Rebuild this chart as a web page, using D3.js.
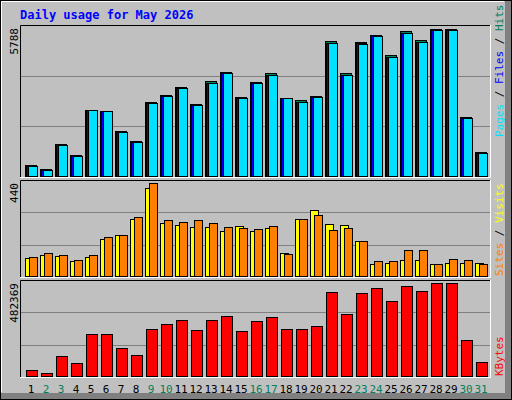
<!DOCTYPE html>
<html><head><meta charset="utf-8">
<script src="https://cdn.jsdelivr.net/npm/d3@7"></script>
<style>body{margin:0;background:#fff}svg{display:block}</style>
</head><body>
<script>
// daily values
const days = d3.range(1, 32);
const weekend = [2, 3, 9, 10, 16, 17, 23, 24, 30, 31];
const hits = [460, 303, 1289, 855, 2631, 2605, 1802, 1408, 2960, 3223, 3539, 2868, 3775, 4131, 3144, 3710,
  4065, 3105, 3026, 3184, 5315, 4065, 5288, 5565, 4775, 5722, 5354, 5788, 5788, 2368, 973];
const files = [420, 265, 1280, 815, 2631, 2580, 1760, 1370, 2920, 3180, 3490, 2830, 3700, 4080, 3105, 3700,
  4020, 3090, 2960, 3140, 5270, 4020, 5245, 5555, 4700, 5650, 5300, 5780, 5780, 2330, 935];
const pages = [415, 260, 1270, 810, 2625, 2570, 1750, 1360, 2910, 3170, 3480, 2820, 3690, 4070, 3095, 3690,
  4010, 3080, 2950, 3130, 5260, 4010, 5235, 5545, 4690, 5640, 5290, 5770, 5770, 2320, 930];
const visits = [87, 102, 97, 73, 92, 178, 197, 273, 416, 254, 245, 235, 235, 216, 240, 216,
  230, 111, 273, 311, 249, 245, 168, 59, 64, 78, 78, 59, 64, 64, 64];
const sites = [92, 111, 102, 78, 102, 187, 197, 278, 440, 268, 259, 264, 254, 235, 230, 226,
  240, 106, 273, 292, 221, 230, 168, 73, 73, 125, 125, 59, 83, 78, 59];
const kbytes = [33450, 22886, 107388, 70418, 218298, 218298, 149638, 112669, 244705, 271112, 292237, 239424,
  292237, 313363, 234143, 286956, 308082, 244705, 244705, 260549, 434836, 323926, 429554, 455961, 387303,
  466524, 440118, 482369, 482369, 191891, 75700];

const W = 512, H = 400, L = 20, R = 490;
const svg = d3.select("body").append("svg").attr("width", W).attr("height", H);
const mono = "'DejaVu Sans Mono', monospace";

svg.append("rect").attr("width", W).attr("height", H).attr("fill", "#c0c0c0");
svg.append("rect").attr("x", 505).attr("y", 0).attr("width", 7).attr("height", H).attr("fill", "#808080");
svg.append("rect").attr("x", 0).attr("y", 393).attr("width", W).attr("height", 7).attr("fill", "#808080");
svg.append("rect").attr("x", 0.5).attr("y", 0.5).attr("width", W - 1).attr("height", H - 1)
  .attr("fill", "none").attr("stroke", "#000");
svg.append("path").attr("d", "M1.5,392V1.5H504").attr("stroke", "#fff").attr("fill", "none");

svg.append("text").attr("x", 20).attr("y", 19).attr("fill", "#0000ff")
  .attr("font-family", mono).attr("font-weight", "bold").attr("font-size", 12)
  .text("Daily usage for May 2026");

const x = d3.scaleBand().domain(days).range([22, 487]);

function panel(top, bottom, max) {
  svg.append("rect").attr("x", L).attr("y", top).attr("width", R - L).attr("height", bottom - top)
    .attr("fill", "#c0c0c0");
  const y = d3.scaleLinear().domain([0, max * 1.03]).range([bottom, top]);
  [1, 2].forEach(k => {
    const gy = Math.round(bottom - (bottom - top) * k / 3) + 0.5;
    svg.append("line").attr("x1", L).attr("x2", R).attr("y1", gy).attr("y2", gy)
      .attr("stroke", "#808080");
  });
  svg.append("path").attr("d", `M${L + 0.5},${bottom}V${top + 0.5}H${R}`).attr("stroke", "#000").attr("fill", "none");
  svg.append("path").attr("d", `M${L},${bottom + 0.5}H${R + 0.5}V${top}`).attr("stroke", "#fff").attr("fill", "none");
  svg.append("text").attr("transform", `translate(18,${top + 3}) rotate(-90)`)
    .attr("text-anchor", "end").attr("font-family", mono).attr("font-size", 11).text(max);
  return y;
}

function bars(vals, y, dx, w, color) {
  svg.append("g").selectAll("rect").data(vals).join("rect")
    .attr("x", (d, i) => x(i + 1) + dx + 0.5)
    .attr("y", d => Math.round(y(d)) + 0.5)
    .attr("width", w)
    .attr("height", d => y(0) - Math.round(y(d)) - 1)
    .attr("fill", color).attr("stroke", "#000");
}

const y1 = panel(25, 177, d3.max(hits));
bars(hits, y1, 3, 11, "#00805c");
bars(files, y1, 4, 10, "#0000ff");
bars(pages, y1, 6, 9, "#00e0ff");

const y2 = panel(180, 277, d3.max(sites));
bars(visits, y2, 3, 8, "#ffff00");
bars(sites, y2, 7, 8, "#ff8000");

const y3 = panel(280, 377, d3.max(kbytes));
bars(kbytes, y3, 4, 11, "#ff0000");

svg.append("g").selectAll("text").data(days).join("text")
  .attr("x", d => x(d) + 9).attr("y", 393).attr("text-anchor", "middle")
  .attr("font-family", mono).attr("font-size", 11)
  .attr("fill", d => weekend.includes(d) ? "#00805c" : "#000").text(d => d);

function sideLabel(yEnd, parts) {
  const t = svg.append("text").attr("transform", `translate(503,${yEnd}) rotate(-90)`)
    .attr("font-family", mono).attr("font-size", 11);
  parts.forEach(([s, c]) => t.append("tspan").attr("fill", c).text(s));
}
sideLabel(137, [["Pages", "#00e0ff"], [" / ", "#000"], ["Files", "#0000ff"], [" / ", "#000"], ["Hits", "#00805c"]]);
sideLabel(276, [["Sites", "#ff8000"], [" / ", "#000"], ["Visits", "#ffff00"]]);
sideLabel(376, [["KBytes", "#ff0000"]]);
</script>
</body></html>
